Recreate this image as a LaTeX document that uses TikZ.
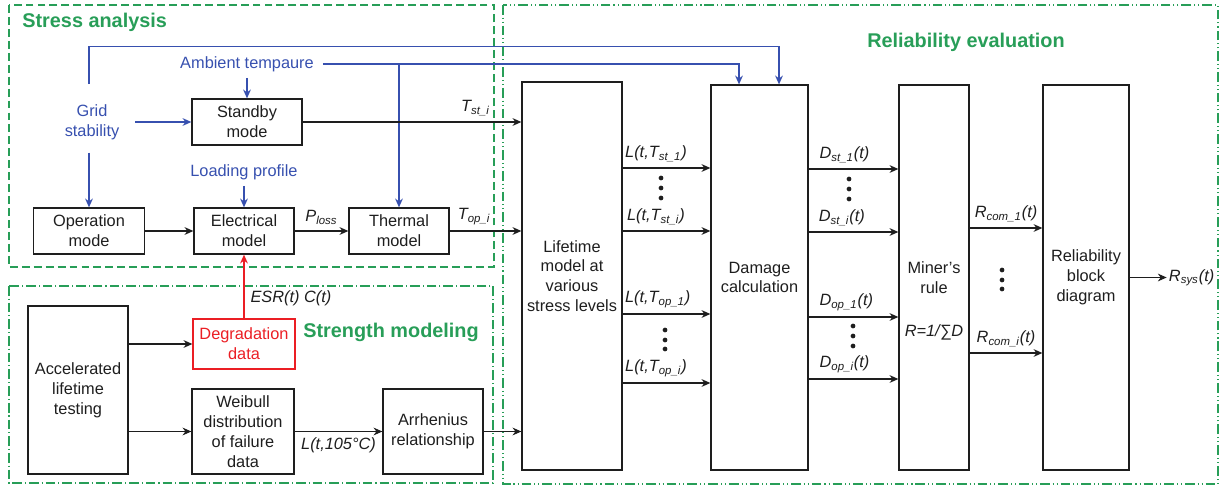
\documentclass[tikz,border=0pt]{standalone}
\usepackage{fontspec}
\setmainfont{Liberation Sans}
\usepackage{xcolor}
\usepackage{tikz}
\usetikzlibrary{arrows.meta,positioning,calc}
\definecolor{framegreen}{RGB}{40,158,88}
\definecolor{cueblue}{RGB}{55,80,175}
\definecolor{degred}{RGB}{235,30,36}
\definecolor{inkgray}{RGB}{30,30,30}

\begin{document}
\begin{tikzpicture}[
    x=0.02cm, y=-0.02cm,
    >={Stealth[length=5pt,width=4.4pt]},
    font=\fontsize{9.3}{11.3}\selectfont,
    block/.style={draw=inkgray, line width=0.75pt, align=center, text=inkgray, inner sep=2pt},
    deg_block/.style={block, draw=degred, text=degred},
    cue/.style={text=cueblue, align=center},
    arrow/.style={->, line width=0.65pt, inkgray},
    blue_arrow/.style={->, line width=0.8pt, cueblue},
    red_arrow/.style={->, line width=0.8pt, degred},
    lbl/.style={font=\fontsize{9.3}{11.3}\selectfont\itshape, text=inkgray},
    title/.style={font=\fontsize{11.3}{13}\selectfont\bfseries, text=framegreen, inner sep=0pt},
    stress_frame/.style={draw=framegreen, line width=0.8pt, dash pattern=on 4.5pt off 2.3pt},
    strength_frame/.style={draw=framegreen, line width=0.8pt, dash pattern=on 5.5pt off 1.7pt on 0.6pt off 1.7pt},
    reliab_frame/.style={draw=framegreen, line width=0.8pt, dash pattern=on 5.5pt off 1.7pt on 0.6pt off 1.7pt on 0.6pt off 1.7pt}
]
    \useasboundingbox (0,0) rectangle (1219,486);

    % Frames and titles
    \draw[stress_frame] (9,5) rectangle (494,267);
    \draw[strength_frame] (9,286) rectangle (493,483);
    \draw[reliab_frame] (503,5) rectangle (1218,484);
    \node[title, anchor=west] (stress_title) at (22,22) {Stress analysis};
    \node[title, anchor=west] (strength_title) at (303,332) {Strength modeling};
    \node[title] (reliab_title) at (966,42) {Reliability evaluation};

    % Stress analysis
    \node[block, minimum width=2.2cm, minimum height=0.92cm] (standby) at (247,122) {Standby\\mode};
    \node[block, minimum width=2.22cm, minimum height=0.92cm] (operation) at (89,231) {Operation\\mode};
    \node[block, minimum width=2cm, minimum height=0.92cm] (electrical) at (244,231) {Electrical\\model};
    \node[block, minimum width=2cm, minimum height=0.92cm] (thermal) at (399,231) {Thermal\\model};
    \node[cue] (grid) at (92,122) {Grid\\stability};
    \node[cue] (ambient) at (247,64) {Ambient tempaure};
    \node[cue] (loading) at (244,172) {Loading profile};

    % Strength modeling
    \node[block, minimum width=2cm, minimum height=3.36cm] (accel) at (78,390) {Accelerated\\lifetime\\testing};
    \node[deg_block, minimum width=2.04cm, minimum height=1cm] (degradation) at (244,344) {Degradation\\data};
    \node[block, minimum width=2.04cm, minimum height=1.7cm] (weibull) at (243,431.5) {Weibull\\distribution\\of failure\\data};
    \node[block, minimum width=2cm, minimum height=1.7cm] (arrhenius) at (433,431.5) {Arrhenius\\relationship};

    % Reliability evaluation
    \node[block, minimum width=2cm, minimum height=7.76cm] (lifetime) at (572,276) {Lifetime\\model at\\various\\stress levels};
    \node[block, minimum width=1.94cm, minimum height=7.7cm] (damage) at (759.5,277.5) {Damage\\calculation};
    \node[block, minimum width=1.4cm, minimum height=7.7cm] (miner) at (934,277.5) {Miner’s\\rule};
    \node[lbl] (minerR) at (934,332) {R=1/∑D};
    \node[block, minimum width=1.72cm, minimum height=7.7cm] (rbd) at (1086,277.5) {Reliability\\block\\diagram};

    % Stress inputs
    \draw[blue_arrow] ($(operation.north |- grid.north)+(0,-14)$) -- ++(0,-38) -| ($(damage.north)+(19.5,0)$);
    \draw[blue_arrow] ($(ambient.east)+(3,0)$) -| ($(damage.north)+(-20.5,0)$);
    \draw[blue_arrow] (thermal.north |- ambient.east) -- (thermal.north);
    \draw[blue_arrow] (ambient.south) -- (standby.north);
    \draw[blue_arrow] (loading.south) -- (electrical.north);
    \draw[blue_arrow] ($(grid.east)+(10,0)$) -- (standby.west);
    \draw[blue_arrow] ($(operation.north |- grid.south)+(0,7)$) -- (operation.north);

    % Stress chain
    \draw[arrow] (operation) -- (electrical);
    \draw[arrow] (electrical) -- node[lbl, above] {P\textsubscript{loss}} (thermal);
    \draw[arrow] (thermal.east) -- (thermal.east -| lifetime.west) node[lbl, above, pos=0.34] {T\textsubscript{op\_i}};
    \draw[arrow] (standby.east) -- (standby.east -| lifetime.west) node[lbl, above, pos=0.79] {T\textsubscript{st\_i}};

    % Strength chain
    \draw[arrow] (degradation.west -| accel.east) -- (degradation.west);
    \draw[arrow] (weibull.west -| accel.east) -- (weibull.west);
    \draw[arrow] (weibull) -- node[lbl, below] {L(t,105°C)} (arrhenius);
    \draw[arrow] (arrhenius.east) -- (arrhenius.east -| lifetime.west);
    \draw[red_arrow] (degradation.north) -- (electrical.south) node[lbl, right, pos=0.32] {ESR(t) C(t)};

    % Lifetimes to damage
    \draw[arrow] (lifetime.east |- 0,168) -- (damage.west |- 0,168) node[lbl, above, pos=0.38] {L(t,T\textsubscript{st\_1})};
    \draw[arrow] (lifetime.east |- 0,231) -- (damage.west |- 0,231) node[lbl, above, pos=0.38] {L(t,T\textsubscript{st\_i})};
    \draw[arrow] (lifetime.east |- 0,314) -- (damage.west |- 0,314) node[lbl, above, pos=0.4] {L(t,T\textsubscript{op\_1})};
    \draw[arrow] (lifetime.east |- 0,383) -- (damage.west |- 0,383) node[lbl, above, pos=0.38] {L(t,T\textsubscript{op\_i})};
    \fill[inkgray] (661,178) circle[radius=1.35pt] (661,188) circle[radius=1.35pt] (661,198) circle[radius=1.35pt];
    \fill[inkgray] (665,330) circle[radius=1.35pt] (665,340) circle[radius=1.35pt] (665,349) circle[radius=1.35pt];

    % Damage to Miner
    \draw[arrow] (damage.east |- 0,169) -- (miner.west |- 0,169) node[lbl, above, pos=0.4] {D\textsubscript{st\_1}(t)};
    \draw[arrow] (damage.east |- 0,232) -- (miner.west |- 0,232) node[lbl, above, pos=0.37] {D\textsubscript{st\_i}(t)};
    \draw[arrow] (damage.east |- 0,317) -- (miner.west |- 0,317) node[lbl, above, pos=0.42] {D\textsubscript{op\_1}(t)};
    \draw[arrow] (damage.east |- 0,379) -- (miner.west |- 0,379) node[lbl, above, pos=0.4] {D\textsubscript{op\_i}(t)};
    \fill[inkgray] (849,179) circle[radius=1.35pt] (849,189) circle[radius=1.35pt] (849,199) circle[radius=1.35pt];
    \fill[inkgray] (853,326) circle[radius=1.35pt] (853,336) circle[radius=1.35pt] (853,346) circle[radius=1.35pt];

    % Miner to block diagram
    \draw[arrow] (miner.east |- 0,228) -- (rbd.west |- 0,228) node[lbl, above, midway] {R\textsubscript{com\_1}(t)};
    \draw[arrow] (miner.east |- 0,353) -- (rbd.west |- 0,353) node[lbl, above, midway] {R\textsubscript{com\_i}(t)};
    \fill[inkgray] (1002,270) circle[radius=1.35pt] (1002,280) circle[radius=1.35pt] (1002,289) circle[radius=1.35pt];
    \draw[arrow] (rbd.east) -- ++(37,0) node[lbl, right, inner sep=1pt] {R\textsubscript{sys}(t)};

\end{tikzpicture}
\end{document}
